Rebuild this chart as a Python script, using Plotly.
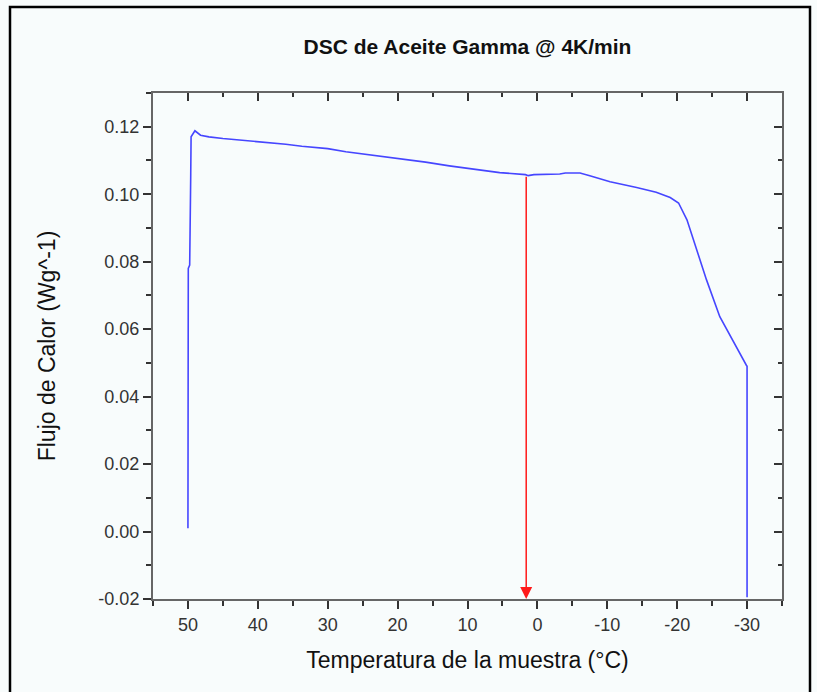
import plotly.graph_objects as go

# Data
temperature = [50.0, 49.95, 49.75, 49.7, 49.6, 49.55, 49.0, 48.2, 47.0, 45.0, 42.0, 39.8, 36.0,
               33.7, 30.0, 27.4, 24.0, 20.0, 16.0, 12.6, 9.0, 5.4, 1.7, 1.3, 0.5, -3.2, -4.0,
               -6.1, -7.5, -10.4, -14.2, -17.0, -19.0, -20.2, -21.4, -22.8, -24.2, -26.1,
               -28.0, -29.9, -30.0, -30.0]
heat_flow = [0.001, 0.078, 0.079, 0.105, 0.106, 0.117, 0.1188, 0.1175, 0.117, 0.1165, 0.116,
             0.1155, 0.1148, 0.1142, 0.1135, 0.1126, 0.1117, 0.1105, 0.1095, 0.1084, 0.1074,
             0.1064, 0.1058, 0.1055, 0.1058, 0.1060, 0.1063, 0.1063, 0.1055, 0.1037, 0.1020,
             0.1006, 0.0990, 0.0974, 0.0924, 0.0835, 0.0746, 0.0637, 0.0563, 0.0493, 0.0490,
             -0.0195]
marker_temp = 1.6
marker_top = 0.1056
marker_bottom = -0.02

x_tickvals = [50, 40, 30, 20, 10, 0, -10, -20, -30]
x_ticktext = ["50", "40", "30", "20", "10", "0", "-10", "-20", "-30"]
y_tickvals = [0.12, 0.10, 0.08, 0.06, 0.04, 0.02, 0.00, -0.02]
y_ticktext = ["0.12", "0.10", "0.08", "0.06", "0.04", "0.02", "0.00", "-0.02"]
x_range = [55, -35]
y_range = [-0.02, 0.13]

font_family = "Liberation Sans, Arial, sans-serif"
axis_col = "#666666"
tick_col = "#333333"

fig = go.Figure()
fig.add_trace(go.Scatter(x=temperature, y=heat_flow, mode="lines",
                         line=dict(color="#4646ff", width=1.6), showlegend=False,
                         hoverinfo="x+y"))
# invisible trace on mirrored axes
fig.add_trace(go.Scatter(x=[x_range[0]], y=[y_range[0]], xaxis="x2", yaxis="y2",
                         mode="markers", marker=dict(opacity=0), showlegend=False,
                         hoverinfo="skip"))

fig.add_annotation(x=marker_temp, y=marker_bottom, ax=marker_temp, ay=marker_top,
                   xref="x", yref="y", axref="x", ayref="y", showarrow=True,
                   arrowhead=2, arrowsize=1.6, arrowwidth=1.5, arrowcolor="#ff1a1a", text="")

common_axis = dict(showline=True, linecolor=axis_col, linewidth=2, showgrid=False,
                   zeroline=False, ticklen=8, tickwidth=1.5, tickcolor=tick_col)

fig.update_layout(
    width=817, height=692,
    margin=dict(l=153, r=35, t=93, b=93),
    paper_bgcolor="#f8fcfc", plot_bgcolor="#f8fcfc",
    font=dict(family=font_family, color="#222222"),
    title=dict(text="<b>DSC de Aceite Gamma @ 4K/min</b>", x=0.5, xanchor="center",
               xref="paper", y=1 - 47 / 692, yanchor="middle",
               font=dict(size=21, family=font_family, color="#111111")),
    xaxis=dict(range=x_range, tickvals=x_tickvals, ticktext=x_ticktext, ticks="outside",
               tickfont=dict(size=18, color=tick_col),
               minor=dict(dtick=5, ticks="outside", ticklen=5, tickcolor=tick_col, tickwidth=1.5),
               title=dict(text="Temperatura de la muestra (°C)", font=dict(size=23, color="#111111"),
                          standoff=18),
               **common_axis),
    yaxis=dict(range=y_range, tickvals=y_tickvals, ticktext=y_ticktext, ticks="outside",
               tickfont=dict(size=18, color=tick_col),
               minor=dict(dtick=0.01, ticks="outside", ticklen=5, tickcolor=tick_col, tickwidth=1.5),
               title=dict(text="Flujo de Calor (Wg^-1)", font=dict(size=23, color="#111111"),
                          standoff=36),
               **common_axis),
    xaxis2=dict(range=x_range, overlaying="x", side="top", anchor="y", tickvals=x_tickvals,
                showticklabels=False, ticks="inside",
                minor=dict(dtick=5, ticks="inside", ticklen=4, tickcolor=tick_col, tickwidth=1.5),
                **common_axis),
    yaxis2=dict(range=y_range, overlaying="y", side="right", anchor="x", tickvals=y_tickvals,
                showticklabels=False, ticks="inside",
                minor=dict(dtick=0.01, ticks="inside", ticklen=4, tickcolor=tick_col, tickwidth=1.5),
                **common_axis),
)

# outer frame of the figure (in paper coords relative to plot area)
pw, ph = 817 - 153 - 35, 692 - 93 - 93
fig.add_shape(type="rect", xref="paper", yref="paper",
              x0=(10 - 153) / pw, x1=(810 - 153) / pw,
              y0=(599 - 710) / ph, y1=(599 - 7) / ph,
              line=dict(color="black", width=2.5), layer="below")

fig.write_html("out.html", config={"displayModeBar": False},
               post_script="document.body.style.margin='0px';")
